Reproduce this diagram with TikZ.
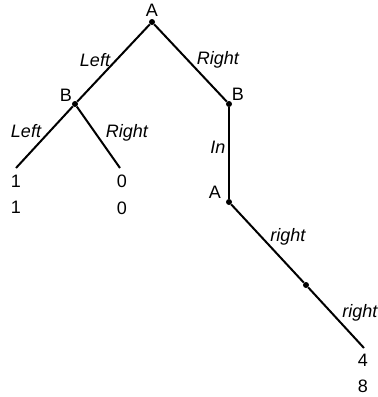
\documentclass[tikz,border=0pt]{standalone}
\usepackage{fontspec}
\setmainfont{Liberation Sans}
\begin{document}
\begin{tikzpicture}[x=1pt,y=-1pt,
  edge/.style={line width=2pt},
  dotnode/.style={circle,fill=black,inner sep=0pt,minimum size=6pt},
  lbl/.style={inner sep=0pt,font=\fontsize{18}{20}\selectfont},
  act/.style={inner sep=0pt,font=\fontsize{18}{20}\selectfont\itshape}]
\useasboundingbox (0,0) rectangle (378,397);
% decision points
\node[dotnode] (a1) at (152,22) {};
\node[dotnode] (b1) at (75,104) {};
\node[dotnode] (b2) at (229,104) {};
\node[dotnode] (a2) at (229,202) {};
\node[dotnode] (m) at (306,285) {};
\coordinate (l1) at (16,168);
\coordinate (l2) at (120,168);
\coordinate (l3) at (364,348);
% edges
\draw[edge] (a1) -- (b1);
\draw[edge] (a1) -- (b2);
\draw[edge] (b1) -- (l1);
\draw[edge] (b1) -- (l2);
\draw[edge] (b2) -- (a2);
\draw[edge] (a2) -- (m);
\draw[edge] (m) -- (l3);
% player labels
\node[lbl] (ta1) at (152,10) {A};
\node[lbl] (tb1) at (66,95) {B};
\node[lbl] (tb2) at (238,94) {B};
\node[lbl] (ta2) at (215,192) {A};
% payoffs
\node[lbl] (p11) at (16,181) {1};
\node[lbl] (p12) at (16,207) {1};
\node[lbl] (p21) at (122,181) {0};
\node[lbl] (p22) at (122,208) {0};
\node[lbl] (p31) at (363,360) {4};
\node[lbl] (p32) at (363,386) {8};
% action labels
\node[act] (e1) at (95,60) {Left};
\node[act] (e2) at (218,60) {Right};
\node[act] (e3) at (26,131) {Left};
\node[act] (e4) at (127,133) {Right};
\node[act] (e5) at (218,147) {In};
\node[act] (e6) at (288,237) {right};
\node[act] (e7) at (360,313) {right};
\end{tikzpicture}
\end{document}
